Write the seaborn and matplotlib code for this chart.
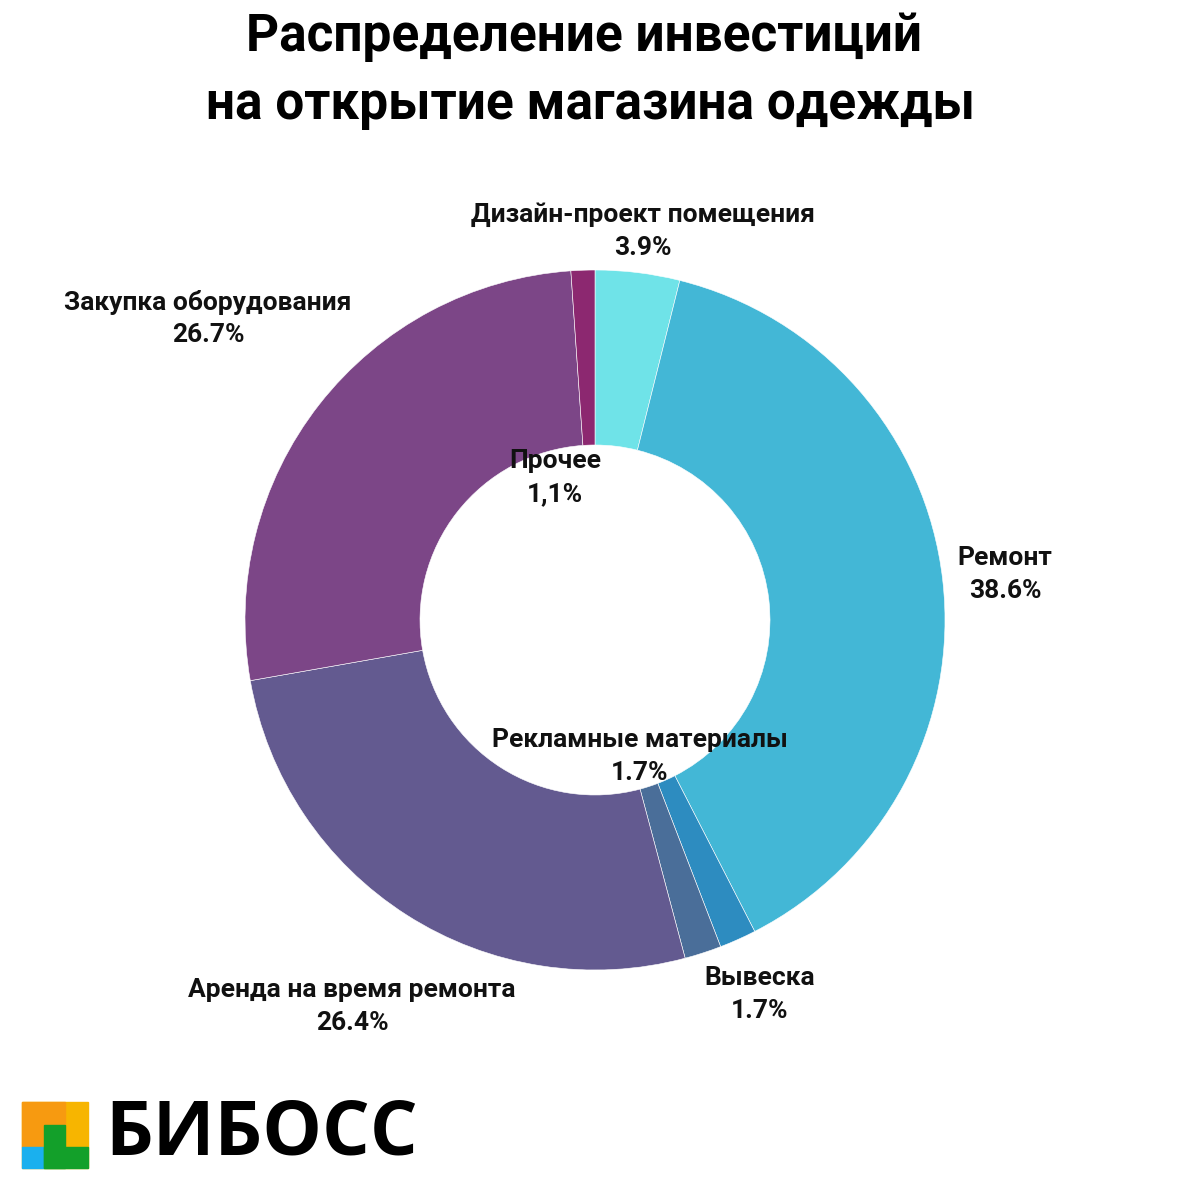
import matplotlib
matplotlib.use("Agg")
import matplotlib.pyplot as plt
import seaborn as sns
from matplotlib.patches import Rectangle

sns.set_theme(style="white")

categories = ["Дизайн-проект помещения", "Ремонт", "Вывеска", "Рекламные материалы",
              "Аренда на время ремонта", "Закупка оборудования", "Прочее"]
values = [3.9, 38.6, 1.7, 1.7, 26.4, 26.7, 1.1]
value_labels = ["3.9%", "38.6%", "1.7%", "1.7%", "26.4%", "26.7%", "1,1%"]
colors = ["#6fe3e8", "#43b7d6", "#2d8cc0", "#4a6e99", "#635a90", "#7c4687", "#8c2870"]
# label positions in pixel coords (center x, first line y)
label_px = [(643, 215), (1005, 558), (760, 978), (640, 740), (352, 990), (208, 302), (555, 461)]

W = 1180
fig = plt.figure(figsize=(11.8, 11.8), dpi=100)
fig.patch.set_facecolor("white")
R = 350
cx, cy = 595, 620
ax = fig.add_axes([(cx - R) / W, (W - cy - R) / W, 2 * R / W, 2 * R / W])
ax.pie(values, colors=colors, startangle=90, counterclock=False, radius=1.0,
       wedgeprops=dict(width=0.5, edgecolor="white", linewidth=0.4))
ax.set_xlim(-1, 1)
ax.set_ylim(-1, 1)
ax.set_aspect("equal")
ax.axis("off")

font = "Roboto"
for cat, vl, (px, py) in zip(categories, value_labels, label_px):
    fig.text(px / W, 1 - py / W, cat, ha="center", va="center", fontsize=19,
             fontweight="bold", family=font, color="#111111")
    fig.text(px / W, 1 - (py + 33) / W, vl, ha="center", va="center", fontsize=19,
             fontweight="bold", family=font, color="#111111")

fig.text(584 / W, 1 - 37 / W, "Распределение инвестиций", ha="center", va="center",
         fontsize=37, fontweight="bold", family=font, color="#000000")
fig.text(590 / W, 1 - 105 / W, "на открытие магазина одежды", ha="center", va="center",
         fontsize=37, fontweight="bold", family=font, color="#000000")

# logo
def rect(x0, y0, x1, y1, c):
    fig.patches.append(Rectangle((x0 / W, 1 - y1 / W), (x1 - x0) / W, (y1 - y0) / W,
                                 transform=fig.transFigure, color=c, zorder=5))
rect(22, 1102, 88, 1168, "#f7b500")
rect(22, 1102, 65, 1147, "#f79a10")
rect(22, 1147, 44, 1168, "#1ab0ee")
rect(44, 1125, 65, 1168, "#13a02a")
rect(44, 1147, 88, 1168, "#13a02a")
fig.text(105 / W, 1 - 1135 / W, "БИБОСС", ha="left", va="center", fontsize=54,
         fontweight="bold", family="Open Sans", color="#000000")

fig.savefig("out.png", dpi=100, facecolor="white")
